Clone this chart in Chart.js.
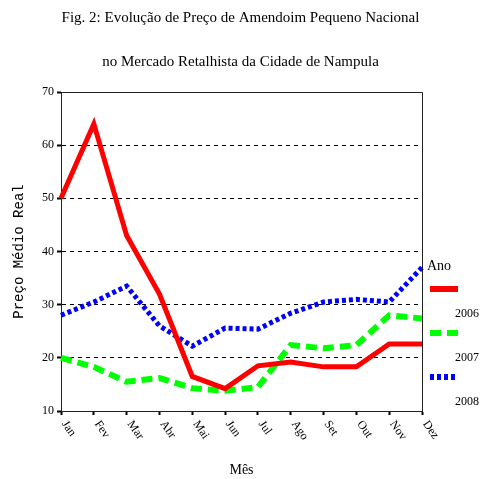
<!DOCTYPE html>
<html>
<head>
<meta charset="utf-8">
<script src="https://cdn.jsdelivr.net/npm/chart.js@4/dist/chart.umd.min.js"></script>
<style>
  html, body { margin: 0; padding: 0; background: #fff; }
  #wrap { width: 481px; height: 479px; position: relative; }
</style>
</head>
<body>
<div id="wrap"><canvas id="chart"></canvas></div>
<script>
// Chart data
const months = ['Jan', 'Fev', 'Mar', 'Abr', 'Mai', 'Jun', 'Jul', 'Ago', 'Set', 'Out', 'Nov', 'Dez'];
const years = ['2006', '2007', '2008'];
const prices2006 = [50, 64, 43, 32, 16.5, 14.2, 18.5, 19.2, 18.3, 18.3, 22.6, 22.6];
const prices2007 = [20, 18.3, 15.5, 16.2, 14.3, 13.8, 14.5, 22.4, 21.8, 22.4, 28, 27.4];
const prices2008 = [28, 30.5, 33.5, 26, 22.2, 25.6, 25.4, 28.4, 30.5, 31, 30.5, 37];
const yTicks = [10, 20, 30, 40, 50, 60, 70];

const serif = '"Liberation Serif", "Times New Roman", serif';

// Rotated month labels hanging down-right from each tick
const monthLabels = {
    id: 'monthLabels',
    afterDraw(chart) {
        const ctx = chart.ctx;
        const xs = chart.scales.x;
        ctx.save();
        ctx.fillStyle = '#000';
        ctx.font = '12px ' + serif;
        ctx.textAlign = 'left';
        ctx.textBaseline = 'middle';
        xs.getLabels().forEach((label, i) => {
            const x = xs.getPixelForTick(i);
            ctx.save();
            ctx.translate(x + 3, xs.top + 11);
            ctx.rotate(55 * Math.PI / 180);
            ctx.fillText(label, 0, 0);
            ctx.restore();
        });
        ctx.restore();
    }
};

// Solid frame on top and right of the plot
const plotFrame = {
    id: 'plotFrame',
    afterDraw(chart) {
        const {ctx, chartArea: a} = chart;
        ctx.save();
        ctx.strokeStyle = '#222';
        ctx.lineWidth = 1;
        ctx.beginPath();
        ctx.moveTo(a.left, a.top + 0.5);
        ctx.lineTo(a.right + 0.5, a.top + 0.5);
        ctx.lineTo(a.right + 0.5, a.bottom);
        ctx.stroke();
        ctx.restore();
    }
};

// Legend: "Ano", then line sample with year label underneath
const yearLegend = {
    id: 'yearLegend',
    afterDraw(chart) {
        const ctx = chart.ctx;
        const x0 = chart.chartArea.right + 8;
        ctx.save();
        ctx.fillStyle = '#000';
        ctx.textBaseline = 'middle';
        ctx.font = '14px ' + serif;
        ctx.textAlign = 'left';
        ctx.fillText('Ano', x0 - 3, 266);
        chart.data.datasets.forEach((ds, i) => {
            const y = 289 + i * 44;
            ctx.save();
            ctx.strokeStyle = ds.borderColor;
            ctx.lineWidth = 6;
            ctx.setLineDash(ds.borderDash || []);
            ctx.beginPath();
            ctx.moveTo(x0, y);
            ctx.lineTo(x0 + 28, y);
            ctx.stroke();
            ctx.restore();
            ctx.font = '12px ' + serif;
            ctx.textAlign = 'right';
            ctx.fillText(ds.label, 479, y + 25);
        });
        ctx.restore();
    }
};

new Chart(document.getElementById('chart'), {
    type: 'line',
    data: {
        labels: months,
        datasets: [
            { label: years[0], data: prices2006, borderColor: '#ff0000', borderWidth: 5 },
            { label: years[1], data: prices2007, borderColor: '#00ff00', borderWidth: 6, borderDash: [11, 6] },
            { label: years[2], data: prices2008, borderColor: '#0000ff', borderWidth: 5, borderDash: [4, 3] }
        ]
    },
    options: {
        responsive: true,
        maintainAspectRatio: false,
        animation: false,
        layout: { padding: 0 },
        elements: {
            point: { radius: 0 },
            line: { tension: 0, borderCapStyle: 'butt', fill: false }
        },
        plugins: {
            legend: { display: false },
            tooltip: { enabled: false },
            title: {
                display: true,
                text: ['Fig. 2: Evolução de Preço de Amendoim Pequeno Nacional', 'no Mercado Retalhista da Cidade de Nampula'],
                color: '#000',
                font: { family: serif, size: 15, weight: 'normal', lineHeight: '44px' },
                padding: { top: -4, bottom: 8 }
            }
        },
        scales: {
            x: {
                type: 'category',
                offset: false,
                afterFit: scale => { scale.height = 68; },
                ticks: { display: false },
                grid: { drawOnChartArea: false, tickLength: 4, tickWidth: 2, tickColor: '#000' },
                border: { color: '#222', width: 1 },
                title: {
                    display: true, text: 'Mês', color: '#000',
                    font: { family: serif, size: 14 },
                    padding: { top: 0, bottom: 0 }
                }
            },
            y: {
                min: 10,
                max: 70,
                afterFit: scale => { scale.width = 61; },
                afterBuildTicks: scale => { scale.ticks = yTicks.map(v => ({ value: v })); },
                ticks: { color: '#000', font: { family: serif, size: 12 }, padding: 3 },
                grid: { color: '#000', lineWidth: 1, tickLength: 4, tickWidth: 2, tickColor: '#000', tickBorderDash: [] },
                border: { color: '#222', width: 1, dash: [4, 4] },
                title: {
                    display: true, text: 'Preço Médio Real', color: '#000',
                    font: { family: '"Liberation Mono", monospace', size: 14 },
                    padding: { top: 11, bottom: 0 }
                }
            },
            // empty right-hand axis that only reserves room for the legend
            legendSpace: {
                type: 'linear',
                position: 'right',
                afterFit: scale => { scale.width = 59; },
                ticks: { display: false },
                grid: { display: false },
                border: { display: false }
            }
        }
    },
    plugins: [monthLabels, plotFrame, yearLegend]
});
</script>
</body>
</html>
